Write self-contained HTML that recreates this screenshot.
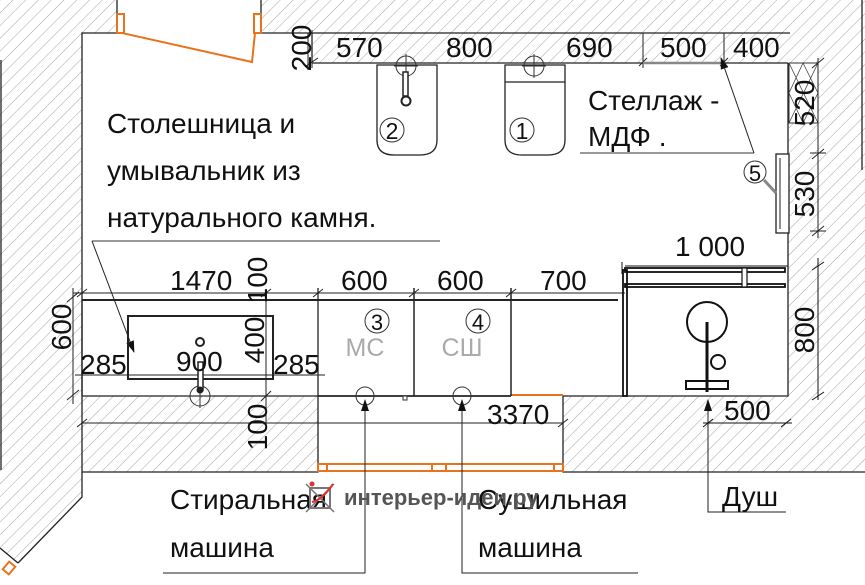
<!DOCTYPE html>
<html><head><meta charset="utf-8"><style>
html,body{margin:0;padding:0;background:#fff;}
svg{display:block;}
text{font-family:"Liberation Sans","DejaVu Sans",sans-serif;fill:#111;}
</style></head><body>
<svg width="865" height="585" viewBox="0 0 865 585" xmlns="http://www.w3.org/2000/svg">
<defs>
<pattern id="h" width="9" height="9" patternUnits="userSpaceOnUse" patternTransform="rotate(45)">
<line x1="0" y1="0" x2="0" y2="9" stroke="#9a9a9a" stroke-width="0.9"/>
</pattern>
<marker id="ar" markerWidth="12" markerHeight="10" refX="11" refY="5" orient="auto" markerUnits="userSpaceOnUse">
<path d="M0,1 L12,5 L0,9 z" fill="#111"/>
</marker>
</defs>
<rect width="865" height="585" fill="url(#h)"/>
<rect x="117" y="0" width="144" height="33" fill="#fff"/>
<polygon points="82,33 312,33 312,63 788,63 788,396 563,396 563,472 318,472 318,396 82,396" fill="#fff"/>
<polygon points="82,472 865,472 865,585 0,585 0,548 18,563 82,497" fill="#fff"/>
<g stroke="#222" stroke-width="1.3" fill="none">
<polyline points="117,0 117,33 82,33 82,472"/>
<polyline points="261,0 261,33 312,33"/>
<line x1="312" y1="33" x2="790" y2="33"/>
<line x1="312" y1="63" x2="788" y2="63"/>
<line x1="312" y1="33" x2="312" y2="63"/>
<polyline points="788,63 788,396 563,396 563,472 865,472"/>
<polyline points="318,396 318,472 82,472"/>
<polyline points="82,472 82,497 18,563"/>
<line x1="0" y1="548" x2="18" y2="563"/>
<line x1="1" y1="60" x2="1" y2="470"/>
<line x1="862" y1="0" x2="862" y2="170"/>
</g>
<g stroke="#e8731c" stroke-width="2" fill="#fff">
<rect x="117" y="14" width="7" height="19"/>
<rect x="254" y="14" width="7" height="19"/>
<polyline points="122,33 252,62 255,33" fill="none"/>
<rect x="318" y="464" width="245" height="7" fill="none"/>
<rect x="318" y="464" width="9" height="7"/>
<rect x="432" y="464" width="14" height="7"/>
<rect x="554" y="464" width="9" height="7"/>
<line x1="511" y1="395" x2="563" y2="395"/>
<rect x="4" y="564" width="10" height="8" transform="rotate(-50 9 568)"/>
</g>
<g stroke="#222" stroke-width="1">
<line x1="312" y1="30" x2="312" y2="68"/>
<line x1="643" y1="33" x2="643" y2="68"/>
<line x1="724" y1="33" x2="724" y2="66"/>
<line x1="308" y1="33" x2="308" y2="70"/>
<line x1="306" y1="66" x2="318" y2="58"/>
<line x1="639" y1="66" x2="647" y2="58"/>
<line x1="720" y1="66" x2="728" y2="58"/>
</g>
<line x1="643" y1="63" x2="720" y2="63" stroke="#888" stroke-width="2.5"/>
<g font-size="28">
<text x="336" y="57">570</text>
<text x="446" y="57">800</text>
<text x="566" y="57">690</text>
<text x="660" y="57">500</text>
<text x="733" y="57">400</text>
</g>
<text font-size="28" transform="translate(311,48) rotate(-90)" text-anchor="middle">200</text>
<path d="M377,65 L437,65 L437,140 Q437,155 420,155 L394,155 Q377,155 377,140 Z" fill="#fff" stroke="#222" stroke-width="1.3"/>
<circle cx="406" cy="66" r="10" fill="none" stroke="#333"/>
<line x1="406" y1="54" x2="406" y2="78" stroke="#333"/><line x1="394" y1="66" x2="418" y2="66" stroke="#333"/>
<rect x="403" y="72" width="5" height="24" fill="#fff" stroke="#222" stroke-width="1.5"/>
<circle cx="406" cy="101" r="4.5" fill="#fff" stroke="#222" stroke-width="2"/>
<circle cx="392" cy="130" r="12" fill="none" stroke="#333"/>
<text x="392" y="139" font-size="23" text-anchor="middle">2</text>
<path d="M505,65 L565,65 L565,140 Q565,155 548,155 L522,155 Q505,155 505,140 Z" fill="#fff" stroke="#222" stroke-width="1.3"/>
<line x1="505" y1="82" x2="565" y2="82" stroke="#222" stroke-width="1.2"/>
<circle cx="534" cy="66" r="10" fill="none" stroke="#333"/>
<line x1="534" y1="54" x2="534" y2="78" stroke="#333"/><line x1="522" y1="66" x2="546" y2="66" stroke="#333"/>
<circle cx="522" cy="130" r="12" fill="none" stroke="#333"/>
<text x="522" y="139" font-size="23" text-anchor="middle">1</text>
<rect x="789" y="63" width="29" height="60" fill="#fff" stroke="#333"/>
<path d="M789,63 L818,123 M818,63 L789,123 M789,93 L803,63 M803,123 L818,93 M789,93 L803,123 M803,63 L818,93" stroke="#444" stroke-width="0.8"/>
<line x1="818" y1="58" x2="818" y2="238" stroke="#222"/>
<line x1="812" y1="68" x2="824" y2="58" stroke="#222"/><line x1="812" y1="159" x2="824" y2="149" stroke="#222"/><line x1="812" y1="236" x2="824" y2="226" stroke="#222"/>
<line x1="810" y1="153" x2="826" y2="153" stroke="#222"/><line x1="810" y1="231" x2="826" y2="231" stroke="#222"/>
<text font-size="28" transform="translate(814,103) rotate(-90)" text-anchor="middle">520</text>
<text font-size="28" transform="translate(814,194) rotate(-90)" text-anchor="middle">530</text>
<rect x="776" y="154" width="13" height="79" fill="#fff" stroke="#222" stroke-width="1.3"/>
<line x1="780" y1="158" x2="780" y2="229" stroke="#222"/>
<circle cx="755" cy="172" r="11" fill="none" stroke="#333"/>
<text x="755" y="181" font-size="22" text-anchor="middle">5</text>
<line x1="764" y1="180" x2="776" y2="193" stroke="#888" stroke-width="3"/>
<text x="588" y="110" font-size="28">Стеллаж -</text>
<text x="588" y="146" font-size="28">МДФ .</text>
<line x1="580" y1="153" x2="754" y2="153" stroke="#333"/>
<line x1="754" y1="153" x2="721" y2="58" stroke="#222" marker-end="url(#ar)"/>
<text x="107" y="133" font-size="28">Столешница и</text>
<text x="107" y="180" font-size="28">умывальник из</text>
<text x="107" y="227" font-size="28">натурального камня.</text>
<line x1="92" y1="241" x2="440" y2="241" stroke="#333"/>
<line x1="92" y1="241" x2="134" y2="352" stroke="#222" marker-end="url(#ar)"/>
<g stroke="#222" fill="none">
<line x1="73" y1="293" x2="625" y2="293" stroke-width="1"/>
<line x1="82" y1="300" x2="618" y2="300" stroke-width="2"/>
<line x1="82" y1="300" x2="82" y2="396" stroke-width="1.3"/>
<line x1="82" y1="396" x2="318" y2="396" stroke-width="1.3"/>
<line x1="318" y1="396" x2="511" y2="396" stroke-width="1.8"/>
<line x1="318" y1="288" x2="318" y2="396" stroke-width="1.3"/>
<line x1="414" y1="288" x2="414" y2="396" stroke-width="1.5"/>
<line x1="511" y1="288" x2="511" y2="396" stroke-width="1.5"/>
<rect x="128" y="316" width="145" height="63" stroke-width="2"/>
<line x1="73" y1="288" x2="73" y2="404"/>
<line x1="75" y1="375" x2="325" y2="375"/>
<line x1="266" y1="300" x2="266" y2="426"/>
<line x1="82" y1="423" x2="563" y2="423"/>
<line x1="82" y1="280" x2="82" y2="300"/>
<line x1="67" y1="302" x2="79" y2="292"/><line x1="67" y1="400" x2="79" y2="390"/>
<line x1="77" y1="297" x2="87" y2="289"/><line x1="261" y1="297" x2="271" y2="289"/>
<line x1="313" y1="297" x2="323" y2="289"/><line x1="409" y1="297" x2="419" y2="289"/><line x1="506" y1="297" x2="516" y2="289"/>
<line x1="261" y1="401" x2="271" y2="391"/><line x1="77" y1="427" x2="87" y2="419"/><line x1="558" y1="427" x2="568" y2="419"/>
<line x1="82" y1="416" x2="82" y2="430"/><line x1="563" y1="410" x2="563" y2="432"/>
</g>
<circle cx="200" cy="396" r="10" fill="none" stroke="#333"/>
<line x1="200" y1="384" x2="200" y2="408" stroke="#333"/><line x1="188" y1="396" x2="212" y2="396" stroke="#333"/>
<rect x="198" y="362" width="5" height="28" fill="#fff" stroke="#222" stroke-width="1.5"/>
<circle cx="200" cy="390" r="3.5" fill="#222"/>
<circle cx="200" cy="342" r="4" fill="#fff" stroke="#222" stroke-width="2"/>
<g font-size="28">
<text x="170" y="290">1470</text>
<text x="341" y="290">600</text>
<text x="437" y="290">600</text>
<text x="540" y="290">700</text>
<text x="675" y="256">1 000</text>
<text x="80" y="374">285</text>
<text x="176" y="371">900</text>
<text x="273" y="374">285</text>
<text x="487" y="424">3370</text>
<text x="724" y="420">500</text>
</g>
<text font-size="28" transform="translate(267,280) rotate(-90)" text-anchor="middle">100</text>
<text font-size="28" transform="translate(264,340) rotate(-90)" text-anchor="middle">400</text>
<text font-size="28" transform="translate(71,327) rotate(-90)" text-anchor="middle">600</text>
<text font-size="28" transform="translate(267,427) rotate(-90)" text-anchor="middle">100</text>
<text font-size="28" transform="translate(814,330) rotate(-90)" text-anchor="middle">800</text>
<circle cx="377" cy="321" r="12" fill="none" stroke="#333"/><text x="377" y="330" font-size="22" text-anchor="middle">3</text>
<text x="365" y="356" font-size="25" text-anchor="middle" style="fill:#aaa">МС</text>
<circle cx="478" cy="321" r="12" fill="none" stroke="#333"/><text x="478" y="330" font-size="22" text-anchor="middle">4</text>
<text x="462" y="356" font-size="25" text-anchor="middle" style="fill:#aaa">СШ</text>
<circle cx="365" cy="396" r="9" fill="none" stroke="#333"/>
<circle cx="462" cy="396" r="9" fill="none" stroke="#333"/>
<rect x="403" y="396" width="4" height="4" fill="#fff" stroke="#333"/>
<g stroke="#222" fill="none">
<polyline points="163,573 365,573 365,400" marker-end="url(#ar)"/>
<polyline points="638,573 462,573 462,400" marker-end="url(#ar)"/>
<polyline points="786,512 708,512 708,400" marker-end="url(#ar)"/>
</g>
<g stroke="#111" fill="none">
<line x1="625" y1="266" x2="788" y2="266" stroke-width="1"/>
<rect x="625" y="268" width="160" height="4" stroke-width="1.8"/>
<rect x="625" y="284" width="160" height="3" stroke-width="1.8"/>
<rect x="623" y="270" width="4" height="126" stroke-width="1.8"/>
<rect x="742" y="268" width="5" height="19" fill="#fff" stroke-width="1.2"/>
<circle cx="707" cy="322" r="20" stroke-width="2"/>
<line x1="707" y1="322" x2="707" y2="392" stroke-width="3"/>
<circle cx="718" cy="362" r="7" stroke-width="2"/>
<rect x="686" y="381" width="42" height="8" stroke-width="2"/>
<line x1="703" y1="423" x2="792" y2="423"/>
<line x1="703" y1="427" x2="713" y2="419"/><line x1="781" y1="427" x2="791" y2="419"/>
<line x1="818" y1="258" x2="818" y2="400"/>
<line x1="812" y1="270" x2="824" y2="262"/><line x1="812" y1="400" x2="824" y2="392"/>
<line x1="622" y1="262" x2="622" y2="274"/>
</g>
<text x="170" y="509" font-size="28">Стиральная</text>
<text x="170" y="557" font-size="28">машина</text>
<text x="478" y="509" font-size="28">Сушильная</text>
<text x="478" y="557" font-size="28">машина</text>
<text x="722" y="506" font-size="28">Душ</text>
<rect x="310" y="488" width="20" height="20" fill="none" stroke="#777" stroke-width="2"/>
<path d="M306,484 L334,512 M334,484 L306,512" stroke="#777" stroke-width="1.5"/>
<path d="M312,502 Q322,500 333,484" stroke="#e03030" stroke-width="2" fill="none"/>
<circle cx="312" cy="484" r="2.5" fill="#e03030"/>
<text x="344" y="505" font-size="22" font-weight="bold" style="fill:#555">интерьер-идеи.ру</text>
</svg>
</body></html>
